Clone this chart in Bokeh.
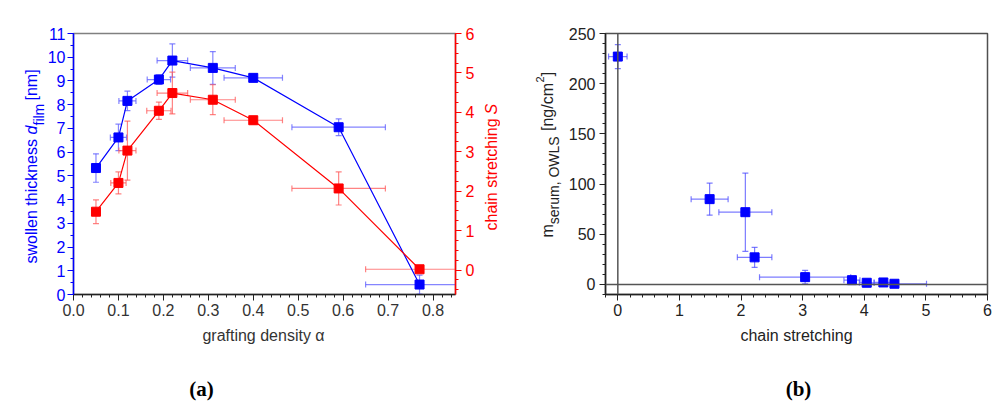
import math
from bokeh.plotting import figure
from bokeh.models import (Range1d, LinearAxis, SingleIntervalTicker, Whisker, TeeHead,
                          ColumnDataSource, Label, Span, CustomJSTickFormatter)
from bokeh.layouts import row
from bokeh.embed import file_html
from bokeh.resources import INLINE

# ---------------- data: panel (a) ----------------
alpha = [0.05, 0.10, 0.12, 0.19, 0.22, 0.31, 0.40, 0.59, 0.77]
alpha_err = [0.0, 0.018, 0.019, 0.026, 0.034, 0.05, 0.065, 0.104, 0.12]
d_film = [5.33, 6.62, 8.16, 9.06, 9.86, 9.55, 9.13, 7.05, 0.42]
d_film_err = [0.60, 0.56, 0.41, 0.20, 0.70, 0.69, 0.08, 0.35, 0.40]
stretch_S = [1.48, 2.21, 3.03, 4.04, 4.49, 4.32, 3.80, 2.07, 0.02]
stretch_S_err = [0.30, 0.28, 0.75, 0.22, 0.53, 0.38, 0.10, 0.42, 0.08]
alpha_err_red = [0.0, 0.017, 0.019, 0.027, 0.034, 0.05, 0.065, 0.104, 0.12]

# ---------------- data: panel (b) ----------------
chain_str = [0.00, 1.49, 2.07, 2.22, 3.04, 3.80, 4.04, 4.31, 4.49]
chain_str_err = [0.15, 0.30, 0.43, 0.28, 0.74, 0.13, 0.12, 0.15, 0.52]
m_serum = [227.0, 85.0, 72.0, 27.0, 7.3, 4.3, 1.7, 2.0, 0.7]
m_serum_err = [12.0, 16.0, 39.0, 10.0, 6.7, 3.0, 1.0, 1.0, 0.5]

# tick settings
xa_ticks = (0.1, 5)
ya_ticks = (1, 2)
sa_ticks = (1, 4)
xb_ticks = (1, 5)
yb_ticks = (50, 5)

BLUE = "#0000ff"
RED = "#ff0000"
FONT = "Liberation Sans"

# frame geometry in each figure's own pixels (left, top, right, bottom)
FRAME_A = (73, 33, 455, 294)
FRAME_B = (105, 33, 487, 294)
XR_A, YR_A, SR_A = (0, 0.85), (0, 11), (-0.62, 6)
XR_B, YR_B = (-0.2, 6), (-10, 250)


def to_data(px, py, frame, xr, yr):
    l, t, r, b = frame
    x = xr[0] + (px - l) / (r - l) * (xr[1] - xr[0])
    y = yr[0] + (b - py) / (b - t) * (yr[1] - yr[0])
    return x, y


def vsrc(x, y, e):
    keep = [i for i in range(len(x)) if e[i] > 0]
    return ColumnDataSource(dict(x=[x[i] for i in keep],
                                 lo=[y[i] - e[i] for i in keep],
                                 hi=[y[i] + e[i] for i in keep]))


def hsrc(x, y, e):
    keep = [i for i in range(len(x)) if e[i] > 0]
    return ColumnDataSource(dict(y=[y[i] for i in keep],
                                 lo=[x[i] - e[i] for i in keep],
                                 hi=[x[i] + e[i] for i in keep]))


def whisk(src, dim, color, rng=None):
    kw = dict(source=src, lower="lo", upper="hi", line_color=color, line_width=1.2, line_alpha=0.75,
              upper_head=TeeHead(size=6, line_color=color, line_alpha=0.75, line_width=1.2),
              lower_head=TeeHead(size=6, line_color=color, line_alpha=0.75, line_width=1.2))
    if dim == "height":
        kw.update(base="x", dimension="height")
    else:
        kw.update(base="y", dimension="width")
    if rng:
        kw["y_range_name"] = rng
    return Whisker(**kw)


def style_axis(ax, color, lab_color, standoff):
    ax.axis_line_color = color
    ax.axis_line_width = 1.5
    ax.major_tick_line_color = color
    ax.minor_tick_line_color = color
    ax.major_tick_out = 6
    ax.major_tick_in = 0
    ax.minor_tick_out = 3
    ax.minor_tick_in = 0
    ax.major_label_text_color = lab_color
    ax.major_label_text_font = FONT
    ax.major_label_text_font_size = "16px"
    ax.major_label_standoff = standoff


def add_label(p, side, frame, xr, yr, px, py, text, size="16px", color="#222222", angle=0.0,
              align="left", style="normal", font=FONT, baseline="alphabetic"):
    # labels live in a side panel (so they are not clipped to the frame);
    # their position is given in data units, so the panel only affects sizing
    x, y = to_data(px, py, frame, xr, yr)
    p.add_layout(Label(x=x, y=y, text=text, text_font=font, text_font_size=size,
                       text_color=color, angle=angle, text_align=align,
                       text_baseline=baseline, text_font_style=style), side)


# ================= panel (a) =================
pa = figure(frame_width=382, frame_height=261, min_border_left=73, min_border_right=45,
            min_border_top=33, min_border_bottom=107,
            x_range=Range1d(*XR_A), y_range=Range1d(*YR_A),
            output_backend="svg", toolbar_location=None)
pa.extra_y_ranges = {"S": Range1d(*SR_A)}
pa.xgrid.visible = False
pa.ygrid.visible = False
pa.outline_line_color = "#808080"
pa.outline_line_width = 1.5

pa.xaxis.ticker = SingleIntervalTicker(interval=xa_ticks[0], num_minor_ticks=xa_ticks[1])
pa.yaxis.ticker = SingleIntervalTicker(interval=ya_ticks[0], num_minor_ticks=ya_ticks[1])
style_axis(pa.xaxis[0], "#222222", "#333333", 3)
style_axis(pa.yaxis[0], BLUE, BLUE, 2)
pa.xaxis.formatter = CustomJSTickFormatter(code="return tick.toFixed(1)")

ax_s = LinearAxis(y_range_name="S",
                  ticker=SingleIntervalTicker(interval=sa_ticks[0], num_minor_ticks=sa_ticks[1]))
style_axis(ax_s, RED, RED, 4)
pa.add_layout(ax_s, "right")

# error bars
pa.add_layout(whisk(vsrc(alpha, d_film, d_film_err), "height", "#5c5cff"))
pa.add_layout(whisk(hsrc(alpha, d_film, alpha_err), "width", "#5c5cff"))
pa.add_layout(whisk(vsrc(alpha, stretch_S, stretch_S_err), "height", "#ff5a5a", "S"))
pa.add_layout(whisk(hsrc(alpha, stretch_S, alpha_err_red), "width", "#ff5a5a", "S"))

pa.line(alpha, d_film, line_color=BLUE, line_width=1.2)
pa.scatter(alpha, d_film, marker="square", size=9, color=BLUE)
pa.line(alpha, stretch_S, line_color=RED, line_width=1.2, y_range_name="S")
pa.scatter(alpha, stretch_S, marker="square", size=9, color=RED, y_range_name="S")

rot = math.pi / 2
# left axis label: swollen thickness d_film [nm]
add_label(pa, "left", FRAME_A, XR_A, YR_A, 31, 263, "swollen thickness ", color=BLUE, angle=rot)
add_label(pa, "above", FRAME_A, XR_A, YR_A, 31, 134, "d", color=BLUE, angle=rot, style="italic")
add_label(pa, "below", FRAME_A, XR_A, YR_A, 38, 125, "film", size="14px", color=BLUE, angle=rot)
add_label(pa, "left", FRAME_A, XR_A, YR_A, 31, 100, "[nm]", color=BLUE, angle=rot)
# right axis label
add_label(pa, "right", FRAME_A, XR_A, YR_A, 491, 230, "chain stretching ", color=RED, angle=rot)
add_label(pa, "above", FRAME_A, XR_A, YR_A, 491, 114, "S", color=RED, angle=rot, style="italic")
# x label and caption
add_label(pa, "below", FRAME_A, XR_A, YR_A, 263, 335, "grafting density α", color="#333333", align="center")
add_label(pa, "below", FRAME_A, XR_A, YR_A, 201, 388, "(a)", size="21px", color="#000000", align="center",
          style="bold", font="Liberation Serif")

# ================= panel (b) =================
pb = figure(frame_width=382, frame_height=261, min_border_left=105, min_border_right=8,
            min_border_top=33, min_border_bottom=107,
            x_range=Range1d(*XR_B), y_range=Range1d(*YR_B),
            output_backend="svg", toolbar_location=None)
pb.xgrid.visible = False
pb.ygrid.visible = False
pb.outline_line_color = "#505050"
pb.outline_line_width = 1.5
pb.xaxis.ticker = SingleIntervalTicker(interval=xb_ticks[0], num_minor_ticks=xb_ticks[1])
pb.yaxis.ticker = SingleIntervalTicker(interval=yb_ticks[0], num_minor_ticks=yb_ticks[1])
style_axis(pb.xaxis[0], "#222222", "#222222", 3)
style_axis(pb.yaxis[0], "#222222", "#222222", 4)

pb.add_layout(Span(location=0, dimension="height", line_color="#555555", line_width=1.5))
pb.add_layout(Span(location=0, dimension="width", line_color="#555555", line_width=1.5))

pb.add_layout(whisk(vsrc(chain_str, m_serum, m_serum_err), "height", "#5050ff"))
pb.add_layout(whisk(hsrc(chain_str, m_serum, chain_str_err), "width", "#5050ff"))
pb.scatter(chain_str, m_serum, marker="square", size=9, color=BLUE)

add_label(pb, "left", FRAME_B, XR_B, YR_B, 46.5, 237, "m", color="#222222", angle=rot)
add_label(pb, "left", FRAME_B, XR_B, YR_B, 53, 223.7, "serum, OWLS", size="14px", color="#222222", angle=rot)
add_label(pb, "left", FRAME_B, XR_B, YR_B, 46.5, 130.5, "[ng/cm", color="#222222", angle=rot)
add_label(pb, "above", FRAME_B, XR_B, YR_B, 39, 82.0, "2", size="11px", color="#222222", angle=rot)
add_label(pb, "above", FRAME_B, XR_B, YR_B, 46.5, 75.8, "]", color="#222222", angle=rot)
add_label(pb, "below", FRAME_B, XR_B, YR_B, 296, 335, "chain stretching", color="#222222", align="center")
add_label(pb, "below", FRAME_B, XR_B, YR_B, 298, 388, "(b)", size="21px", color="#000000", align="center",
          style="bold", font="Liberation Serif")

layout = row(pa, pb)
open("out.html", "w").write(file_html(layout, INLINE))
